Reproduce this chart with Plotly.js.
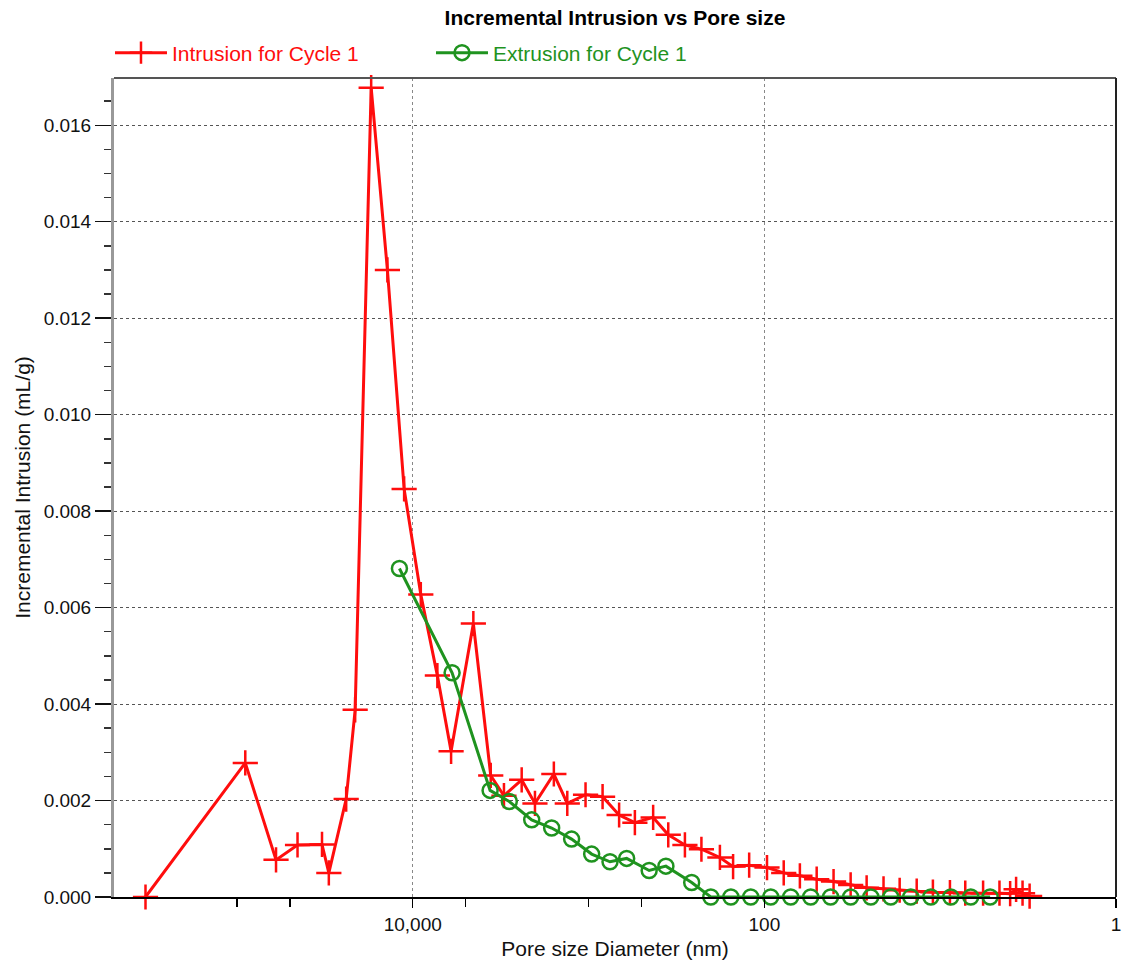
<!DOCTYPE html>
<html>
<head>
<meta charset="utf-8">
<script src="https://cdn.plot.ly/plotly-3.0.1.min.js"></script>
<style>
  html, body { margin: 0; padding: 0; background: #fff; }
  #chart { width: 1125px; height: 965px; }
</style>
</head>
<body>
<div id="chart"></div>
<script>
// Pore diameters (nm) and incremental volumes (mL/g), cycle 1
const intrusionDiameter = [331000, 89600, 59900, 45200, 32800, 30000, 23900, 21250, 17230, 13930,
  11190, 8995, 7240, 6050, 4520, 3600, 3027, 2400, 2017, 1575,
  1321, 1040, 832, 670, 545, 429, 352, 283, 228, 179,
  150.6, 122, 96.6, 77.6, 62.8, 50.4, 40.4, 32.3, 26.2, 21.0,
  17.0, 13.6, 11.0, 8.8, 7.2, 5.7, 4.6, 4.0, 3.7, 3.4, 3.1];
const intrusionVolume = [0, 0.00278, 0.00077, 0.00108, 0.00109, 0.00050, 0.00203, 0.00388, 0.01678, 0.01300,
  0.00846, 0.00627, 0.00459, 0.00302, 0.00567, 0.00252, 0.00210, 0.00243, 0.00194, 0.00255,
  0.00194, 0.00212, 0.00208, 0.00170, 0.00154, 0.00165, 0.00129, 0.00108, 0.00099, 0.00082,
  0.00063, 0.00066, 0.00061, 0.00050, 0.00044, 0.00037, 0.00032, 0.00025, 0.00019, 0.00017,
  0.00014, 0.00012, 0.00010, 0.00009, 0.00008, 0.00008, 0.00008, 0.00007, 0.00016, 0.00008, 0.00002];

const extrusionDiameter = [11900, 5970, 3630, 2823, 2105, 1621, 1248, 960, 755, 607,
  452, 363, 259, 201.6, 155, 119.5, 92, 70.8, 54.5, 42,
  32.3, 24.8, 19.1, 14.7, 11.3, 8.7, 6.7, 5.2];
const extrusionVolume = [0.00681, 0.00465, 0.00221, 0.00198, 0.00160, 0.00143, 0.00120, 0.00089, 0.00073, 0.00080,
  0.00055, 0.00064, 0.00030, 0, 0, 0, 0, 0, 0, 0,
  0, 0, 0, 0, 0, 0, 0, 0];

const xTickValues = [10000, 100, 1];
const xTickLabels = ['10,000', '100', '1'];
const xMinorValues = [100000, 50000, 5000, 1000, 500];

const RED = '#ff0d0d';
const GREEN = '#1f931f';
const FONT = 'Liberation Sans, Arial, Helvetica, sans-serif';

const traces = [
  {
    x: intrusionDiameter, y: intrusionVolume,
    name: '<span style="color:' + RED + '">Intrusion for Cycle 1</span>',
    type: 'scatter', mode: 'lines+markers',
    line: { color: RED, width: 3 },
    marker: { symbol: 'cross-thin', size: 18, line: { color: RED, width: 2.5 }, color: RED },
    cliponaxis: false
  },
  {
    x: extrusionDiameter, y: extrusionVolume,
    name: '<span style="color:' + GREEN + '">Extrusion for Cycle 1</span>',
    type: 'scatter', mode: 'lines+markers',
    line: { color: GREEN, width: 3 },
    marker: { symbol: 'circle-open', size: 15, line: { color: GREEN, width: 2.5 }, color: GREEN },
    cliponaxis: false
  }
];

const layout = {
  width: 1125, height: 965,
  margin: { l: 114, r: 9, t: 78, b: 68 },
  paper_bgcolor: '#fff', plot_bgcolor: '#fff',
  font: { family: FONT, size: 19, color: '#111' },
  title: {
    text: '<b>Incremental Intrusion vs Pore size</b>',
    font: { family: FONT, size: 21, color: '#000' },
    x: 0.5, xref: 'paper', xanchor: 'center',
    y: 1 - 18 / 965, yref: 'container', yanchor: 'middle'
  },
  showlegend: true,
  legend: {
    orientation: 'h', x: -0.004, xanchor: 'left', y: 1.0305, yanchor: 'middle',
    font: { family: FONT, size: 21 },
    itemwidth: 52,
    entrywidth: 254, entrywidthmode: 'pixels',
    bgcolor: 'rgba(0,0,0,0)', itemclick: false
  },
  xaxis: {
    type: 'log',
    range: [Math.log10(500000), 0],
    tickmode: 'array', tickvals: xTickValues, ticktext: xTickLabels,
    ticks: 'outside', ticklen: 9, tickwidth: 1.5, tickcolor: '#000',
    showgrid: true, gridcolor: '#888', griddash: 'dot', gridwidth: 1,
    minor: { tickmode: 'array', tickvals: xMinorValues, ticks: 'outside', ticklen: 8, tickwidth: 1.5, tickcolor: '#000', showgrid: false },
    showline: true, linecolor: '#000', linewidth: 2,
    zeroline: false,
    tickfont: { family: FONT, size: 19, color: '#111' },
    title: { text: 'Pore size Diameter (nm)', font: { family: FONT, size: 21, color: '#111' }, standoff: 8 }
  },
  yaxis: {
    range: [0, 0.01698],
    tickmode: 'linear', tick0: 0, dtick: 0.002, tickformat: '.3f',
    ticks: 'outside', ticklen: 16, tickwidth: 1.5, tickcolor: '#111',
    showgrid: true, gridcolor: '#555', griddash: 'dot', gridwidth: 1,
    minor: { dtick: 0.0005, ticks: 'outside', ticklen: 7, tickwidth: 1.5, tickcolor: '#333', showgrid: false },
    showline: true, linecolor: '#999', linewidth: 3,
    zeroline: false,
    tickfont: { family: FONT, size: 19, color: '#111' },
    title: { text: 'Incremental Intrusion (mL/g)', font: { family: FONT, size: 21, color: '#111' }, standoff: 8 }
  },
  shapes: [
    { type: 'line', xref: 'paper', yref: 'paper', x0: 0, x1: 1, y0: 1, y1: 1, line: { color: '#555', width: 2 } },
    { type: 'line', xref: 'paper', yref: 'paper', x0: 1, x1: 1, y0: 0, y1: 1, line: { color: '#222', width: 2 } }
  ]
};

Plotly.newPlot('chart', traces, layout, { displayModeBar: false, staticPlot: true });
</script>
</body>
</html>
